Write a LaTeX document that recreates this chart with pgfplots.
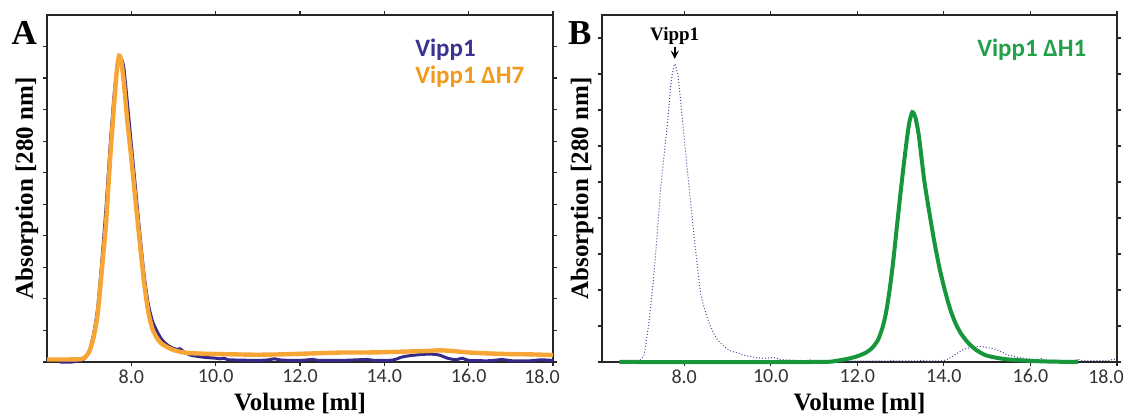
\documentclass[border=0pt]{standalone}
\usepackage{fontspec}
\setmainfont{Liberation Serif}
\newfontfamily\calib{Carlito}
\usepackage{pgfplots}
\pgfplotsset{compat=1.18}

\definecolor{vippline}{HTML}{35298A}
\definecolor{vipptext}{HTML}{3B3393}
\definecolor{hseven}{HTML}{F7A535}
\definecolor{hseventext}{HTML}{F29A1E}
\definecolor{hone}{HTML}{17973C}
\definecolor{honetext}{HTML}{22A04A}
\definecolor{dotblue}{HTML}{4A4A9E}

% one pixel of the reference = 0.5pt
\pgfplotsset{
  sec/.style={
    scale only axis, height=173.5pt, xmax=18, clip=false,
    axis line style={black!85, line width=0.8pt},
    tick align=outside, major tick length=2pt,
    tick style={black!85, line width=0.6pt},
    xtick={8,10,...,18},
    xticklabels={8.0,10.0,12.0,14.0,16.0,18.0\hspace*{11pt}},
    xticklabel style={font=\calib\fontsize{10}{12}\selectfont, text=black!80, inner sep=1.5pt},
    yticklabels={},
    xlabel={Volume [ml]}, ylabel={Absorption [280 nm]},
    label style={font=\bfseries\fontsize{12.5}{14}\selectfont},
    x label style={at={([yshift=-24.5pt]axis description cs:0.5,0)}, anchor=base},
    y label style={at={([xshift=-7pt]axis description cs:0,0.5)}, anchor=base},
  },
}

\begin{document}
\begin{tikzpicture}
% ---- A ----
\begin{axis}[sec, at={(23.5pt,26.5pt)}, anchor=south west,
    width=253pt, xmin=6, ymin=0, ymax=11, ytick={0,1,...,10}]
  \addplot[vippline, line width=1.5pt, smooth, tension=0.4] coordinates {
    (6.3,0.0) (6.6,0.0) (6.8,0.05) (6.9,0.12) (7.0,0.35) (7.1,0.85) (7.2,1.7)
    (7.3,3.2) (7.4,4.9) (7.5,6.9) (7.6,8.6) (7.68,9.45) (7.75,9.64) (7.82,9.35)
    (7.9,8.3) (8.0,6.9) (8.1,5.5) (8.2,4.1) (8.3,2.8) (8.4,1.85) (8.5,1.3)
    (8.6,1.0) (8.7,0.75) (8.8,0.6) (8.9,0.5) (9.0,0.43) (9.1,0.4) (9.15,0.42)
    (9.25,0.32) (9.4,0.22) (9.6,0.17) (9.8,0.14) (10.0,0.12) (10.1,0.1)
    (10.2,0.12) (10.3,0.07) (10.6,0.06) (10.9,0.05) (11.2,0.06) (11.4,0.1)
    (11.55,0.06) (12.0,0.05) (12.3,0.08) (12.45,0.05) (13.0,0.05) (13.6,0.08)
    (13.75,0.05) (14.2,0.06) (14.4,0.15) (14.6,0.2) (14.9,0.24) (15.1,0.25)
    (15.3,0.22) (15.5,0.12) (15.7,0.07) (15.85,0.12) (16.0,0.05) (16.5,0.04)
    (16.8,0.08) (17.0,0.04) (17.5,0.04) (17.7,0.07) (18.0,0.05)};
  \addplot[hseven, line width=2.2pt, smooth, tension=0.4] coordinates {
    (6.0,0.08) (6.5,0.08) (6.8,0.09) (6.9,0.15) (7.0,0.32) (7.1,0.75) (7.2,1.5)
    (7.3,2.9) (7.4,4.4) (7.5,6.5) (7.6,8.3) (7.66,9.3) (7.71,9.71) (7.76,9.55)
    (7.82,8.9) (7.9,7.7) (8.0,6.45) (8.1,5.1) (8.2,3.8) (8.3,2.55) (8.4,1.6)
    (8.5,1.05) (8.6,0.78) (8.7,0.6) (8.85,0.47) (9.0,0.38) (9.2,0.31) (9.4,0.28)
    (9.8,0.26) (10.5,0.24) (11.0,0.23) (11.5,0.24) (12.0,0.26) (12.5,0.28)
    (13.0,0.3) (13.5,0.3) (14.0,0.31) (14.5,0.33) (15.0,0.35) (15.3,0.37)
    (15.6,0.35) (16.0,0.3) (16.5,0.27) (17.0,0.25) (17.5,0.24) (18.0,0.22)};
  \node[anchor=base, inner sep=0] at (rel axis cs:-0.045,0.914)
    {\fontsize{17.5}{20}\selectfont\bfseries A};
  \node[anchor=base west, inner sep=0, text=vipptext] at (rel axis cs:0.727,0.879)
    {\calib\fontsize{12.5}{14}\selectfont\bfseries Vipp1};
  \node[anchor=base west, inner sep=0, text=hseventext] at (rel axis cs:0.727,0.803)
    {\calib\fontsize{12.5}{14}\selectfont\bfseries Vipp1 ΔH7};
\end{axis}
% ---- B ----
\begin{axis}[sec, at={(301pt,26.5pt)}, anchor=south west,
    width=257.5pt, xmin=6.1, ymin=0, ymax=9.64, ytick={0,1,...,9}]
  \addplot[dotblue, line width=0.5pt, densely dotted, smooth, tension=0.4] coordinates {
    (6.5,0.0) (6.9,0.01) (7.0,0.08) (7.08,0.24) (7.19,1.17) (7.31,2.56)
    (7.46,4.87) (7.62,6.72) (7.7,7.8) (7.78,8.28) (7.86,7.9) (7.96,6.72)
    (8.11,4.87) (8.27,3.02) (8.38,1.91) (8.5,1.35) (8.61,0.98) (8.75,0.65)
    (8.92,0.43) (9.05,0.32) (9.14,0.28) (9.25,0.25) (9.37,0.19) (9.68,0.12)
    (9.9,0.1) (10.06,0.13) (10.2,0.07) (10.37,0.06) (10.8,0.04) (10.9,0.06)
    (11.0,0.03) (11.5,0.03) (12.0,0.03) (12.7,0.03) (12.8,0.05) (12.9,0.03)
    (13.4,0.03) (13.5,0.05) (13.6,0.03) (14.0,0.04) (14.19,0.15) (14.42,0.33)
    (14.6,0.4) (14.8,0.43) (15.11,0.38) (15.3,0.3) (15.49,0.19) (15.87,0.1)
    (16.2,0.06) (16.25,0.09) (16.3,0.06) (17.0,0.04) (17.1,0.08) (17.2,0.04)
    (17.8,0.04) (17.9,0.08) (18.0,0.06)};
  \addplot[hone, line width=2pt, smooth, tension=0.4] coordinates {
    (6.5,0.0) (11.0,0.0) (11.5,0.03) (11.82,0.1) (12.0,0.16) (12.2,0.26)
    (12.35,0.4) (12.48,0.62) (12.58,0.95) (12.66,1.35) (12.74,1.95) (12.82,2.7)
    (12.9,3.6) (12.98,4.5) (13.06,5.35) (13.13,6.05) (13.2,6.65) (13.27,6.94)
    (13.34,6.8) (13.42,6.3) (13.54,5.1) (13.65,4.25) (13.77,3.4) (13.9,2.6)
    (14.04,1.91) (14.15,1.45) (14.27,1.07) (14.4,0.78) (14.57,0.52) (14.75,0.33)
    (14.96,0.19) (15.2,0.12) (15.49,0.07) (16.0,0.03) (16.5,0.01) (17.1,0.0)};
  \node[anchor=base, inner sep=0] at (rel axis cs:-0.043,0.914)
    {\fontsize{17.5}{20}\selectfont\bfseries B};
  \node[anchor=base, inner sep=0] at (axis cs:7.78,8.94)
    {\fontsize{9.5}{10}\selectfont\bfseries Vipp1};
  \draw[-stealth, line width=0.8pt] (axis cs:7.78,8.76) -- (axis cs:7.78,8.42);
  \node[anchor=base west, inner sep=0, text=honetext] at (rel axis cs:0.728,0.88)
    {\calib\fontsize{12.5}{14}\selectfont\bfseries Vipp1 ΔH1};
\end{axis}
\pgfresetboundingbox
\useasboundingbox (0,0) rectangle (563pt,207.5pt);
\end{tikzpicture}
\end{document}
